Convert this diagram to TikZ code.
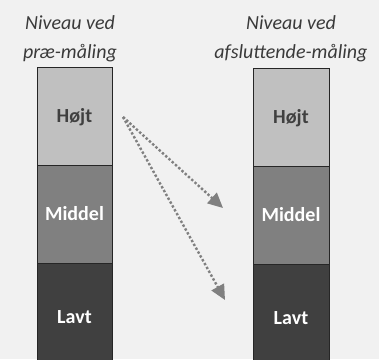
\documentclass[tikz,border=0pt]{standalone}
\usepackage{fontspec}
\setmainfont{Carlito}
\usetikzlibrary{positioning,arrows.meta}
\definecolor{bgc}{HTML}{F1F1F1}
\definecolor{lgray}{HTML}{C0C0C0}
\definecolor{mgray}{HTML}{808080}
\definecolor{dgray}{HTML}{404040}
\definecolor{tgray}{HTML}{3A3A3A}
\begin{document}
\begin{tikzpicture}[x=1pt,y=-1pt,
	bnode/.style={rectangle,draw=black!85,line width=.8pt,minimum width=75pt,minimum height=98pt,inner sep=0pt,outer sep=0pt,text height=13pt,text depth=0pt,font=\fontsize{20}{24}\selectfont\bfseries},
	hnode/.style={bnode,fill=lgray,text=dgray},
	mnode/.style={bnode,fill=mgray,text=white},
	lnode/.style={bnode,fill=dgray,text=white,minimum height=107pt},
	tnode/.style={align=center,font=\fontsize{20}{29}\selectfont\itshape,text=tgray,inner sep=0pt},
	pil/.style={draw=mgray,line width=2.4pt,dotted,-{Triangle[length=15pt,width=14pt,fill=mgray]}},
	node distance = 0pt]
	\useasboundingbox[fill=bgc] (0,0) rectangle (379,359);
	% foer
	\node[tnode] (t1) at (70,39) {Niveau ved\\præ-måling};
	\node[hnode] (h1) at (74.5,116) {Højt};
	\node[mnode] (m1)[below = of h1]{Middel};
	\node[lnode] (l1)[below = of m1]{Lavt};
	% efter
	\node[tnode] (t2) at (291,39) {Niveau ved\\afsluttende-måling};
	\node[hnode,minimum width=76pt] (h2) at (291,117) {Højt};
	\node[mnode,minimum width=76pt] (m2)[below = of h2]{Middel};
	\node[lnode,minimum width=76pt] (l2)[below = of m2]{Lavt};
	% pile
	\coordinate (fra) at (123,117);
	\coordinate (til1) at (223,208);
	\coordinate (til2) at (225,300);
	\draw[pil] (fra) -- (til1);
	\draw[pil] (fra) -- (til2);
\end{tikzpicture}
\end{document}
